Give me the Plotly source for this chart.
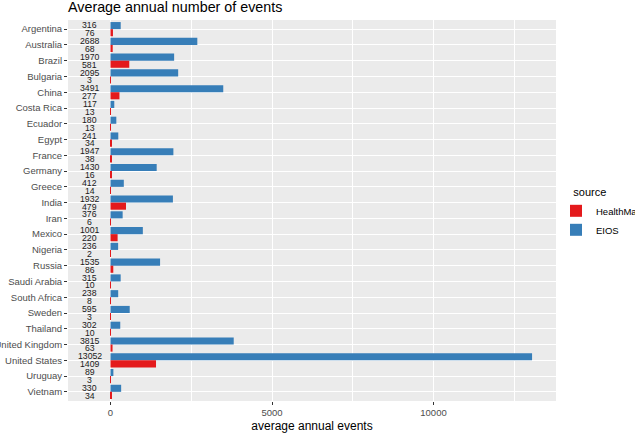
import plotly.graph_objects as go

countries = ["Argentina", "Australia", "Brazil", "Bulgaria", "China", "Costa Rica", "Ecuador",
             "Egypt", "France", "Germany", "Greece", "India", "Iran", "Mexico", "Nigeria",
             "Russia", "Saudi Arabia", "South Africa", "Sweden", "Thailand", "United Kingdom",
             "United States", "Uruguay", "Vietnam"]
eios = [316, 2688, 1970, 2095, 3491, 117, 180, 241, 1947, 1430, 412, 1932, 376, 1001, 236,
        1535, 315, 238, 595, 302, 3815, 13052, 89, 330]
healthmap = [76, 68, 581, 3, 277, 13, 13, 34, 38, 16, 14, 479, 6, 220, 2,
             86, 10, 8, 3, 10, 63, 1409, 3, 34]
x_ticks = [0, 5000, 10000]
x_ticklabels = ["0", "5000", "10000"]

RED = "#E41A1C"
BLUE = "#377EB8"
TXT_X = -640
NUMFONT = dict(size=8.7, color="#1a1a1a", family="Liberation Sans Narrow, Liberation Sans, Arial")

fig = go.Figure()
fig.add_trace(go.Bar(y=countries, x=eios, orientation="h", name="EIOS",
                     marker=dict(color=BLUE, line=dict(width=0))))
fig.add_trace(go.Bar(y=countries, x=healthmap, orientation="h", name="HealthMap",
                     marker=dict(color=RED, line=dict(width=0))))

annots = []
for c, e, h in zip(countries, eios, healthmap):
    annots.append(dict(x=TXT_X, y=c, text=str(e), showarrow=False, yshift=3.9, font=NUMFONT))
    annots.append(dict(x=TXT_X, y=c, text=str(h), showarrow=False, yshift=-3.9, font=NUMFONT))

n = len(countries)
fig.update_layout(
    width=635, height=434,
    margin=dict(l=68, r=79, t=20, b=33, autoexpand=False),
    paper_bgcolor="white", plot_bgcolor="#EBEBEB",
    barmode="group", bargap=0.1, bargroupgap=0,
    font=dict(family="Liberation Sans, Arial", color="#4D4D4D"),
    title=dict(text="Average annual number of events", x=68/635, xanchor="left",
               xref="container", y=1 - 7/434, yanchor="middle", yref="container",
               font=dict(size=14.3, color="black")),
    xaxis=dict(range=[-1316, 13793], tickvals=x_ticks, ticktext=x_ticklabels,
               ticks="outside", ticklen=3,
               tickcolor="#333333", tickfont=dict(size=9.5, color="#4D4D4D"),
               showgrid=True, gridcolor="white", gridwidth=1.2, zeroline=False,
               minor=dict(tickvals=[2500, 7500, 12500], showgrid=True, gridcolor="white", gridwidth=0.6),
               title=dict(text="average annual events", font=dict(size=12, color="black"), standoff=4)),
    yaxis=dict(categoryorder="array", categoryarray=countries, range=[n - 0.42, -0.58],
               ticks="outside", ticklen=3, tickcolor="#333333",
               tickfont=dict(size=9.5, color="#4D4D4D"),
               showgrid=True, gridcolor="white", gridwidth=1.2, zeroline=False),
    legend=dict(x=(556 - 68) / 488, xanchor="left", y=1 - (182 - 20) / 381, yanchor="top",
                traceorder="reversed", bgcolor="rgba(0,0,0,0)",
                title=dict(text="&nbsp;&nbsp;&nbsp;&nbsp;&nbsp;source", font=dict(size=11, color="black")),
                font=dict(size=9.5, color="black")),
    annotations=annots,
)

fig.write_html("out.html")
